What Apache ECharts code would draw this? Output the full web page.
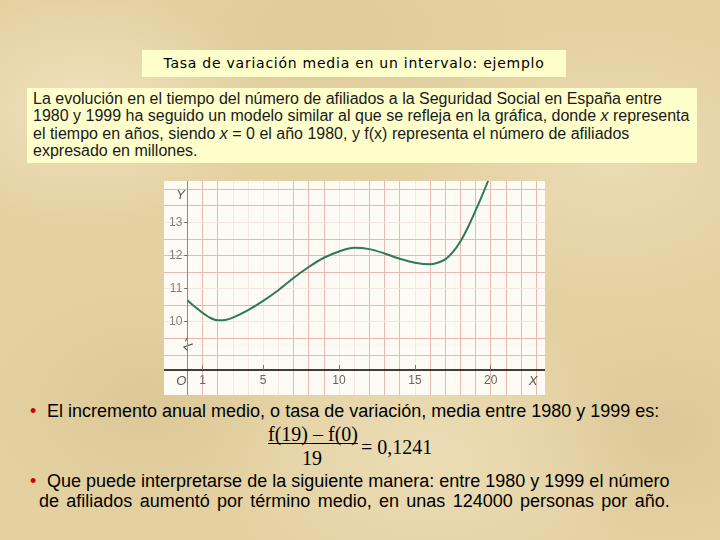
<!DOCTYPE html>
<html>
<head>
<meta charset="utf-8">
<script src="https://cdn.jsdelivr.net/npm/echarts@6/dist/echarts.min.js"></script>
<style>
  html, body { margin: 0; padding: 0; }
  body {
    width: 720px; height: 540px; position: relative; overflow: hidden;
    background-color: #e4d1a2;
    background-image:
      radial-gradient(ellipse 180px 120px at 12% 20%, rgba(244,232,200,0.7), rgba(244,232,200,0) 100%),
      radial-gradient(ellipse 200px 140px at 85% 30%, rgba(241,228,193,0.55), rgba(241,228,193,0) 100%),
      radial-gradient(ellipse 220px 150px at 60% 85%, rgba(242,230,197,0.55), rgba(242,230,197,0) 100%),
      radial-gradient(ellipse 160px 120px at 20% 75%, rgba(212,190,138,0.45), rgba(212,190,138,0) 100%),
      radial-gradient(ellipse 160px 110px at 92% 80%, rgba(210,188,138,0.45), rgba(210,188,138,0) 100%),
      radial-gradient(ellipse 200px 90px at 45% 5%, rgba(216,196,148,0.45), rgba(216,196,148,0) 100%);
  }
  .box { position: absolute; background: #ffffcc; }
  #title {
    left: 142px; top: 50px; width: 424px; height: 27px;
    font-family: "DejaVu Sans", Verdana, sans-serif; font-size: 14px; letter-spacing: 0.75px;
    line-height: 27px; text-align: center; color: #000;
  }
  #para {
    left: 27px; top: 88px; width: 664px; height: 73px; padding: 2px 0 0 6px;
    font-family: "Liberation Sans", Arial, sans-serif; font-size: 16px;
    line-height: 17.3px; color: #1a1a1a; white-space: nowrap;
  }
  #wrap {
    position: absolute; left: 164px; top: 181px; width: 381px; height: 214px;
    overflow: hidden; background: #fdfbf3;
  }
  #chart { position: absolute; left: -20px; top: -20px; width: 421px; height: 254px; }
  .t { position: absolute; font-family: "Liberation Sans", Arial, sans-serif; font-size: 18px; color: #000; white-space: nowrap; line-height: 20px; }
  .b { position: absolute; color: #cc0000; font-family: "Liberation Sans", Arial, sans-serif; font-size: 18px; line-height: 20px; }
  .f { position: absolute; font-family: "Liberation Serif", "Times New Roman", serif; font-size: 20px; color: #000; white-space: nowrap; line-height: 20px; }
</style>
</head>
<body>
<div id="title" class="box">Tasa de variación media en un intervalo: ejemplo</div>
<div id="para" class="box">La evolución en el tiempo del número de afiliados a la Seguridad Social en España entre<br>1980 y 1999 ha seguido un modelo similar al que se refleja en la gráfica, donde <i>x</i> representa<br>el tiempo en años, siendo <i>x</i> = 0 el año 1980, y f(x) representa el número de afiliados<br>expresado en millones.</div>
<div id="wrap"><div id="chart"></div></div>

<div class="b" style="left:30px; top:401px;">•</div>
<div class="t" style="left:47px; top:401px;">El incremento anual medio, o tasa de variación, media entre 1980 y 1999 es:</div>
<div class="f" style="left:268px; top:424px;">f(19) – f(0)</div>
<div style="position:absolute; left:268px; top:443px; width:90px; height:1px; background:#000;"></div>
<div class="f" style="left:302px; top:448px;">19</div>
<div class="f" style="left:361px; top:437px;">= 0,1241</div>
<div class="b" style="left:30px; top:471px;">•</div>
<div class="t" style="left:47px; top:471px;">Que puede interpretarse de la siguiente manera: entre 1980 y 1999 el número</div>
<div class="t" style="left:39px; top:491px; word-spacing:2.3px;">de afiliados aumentó por término medio, en unas 124000 personas por año.</div>

<script>
// Data
const xValues = [0, 0.5, 1, 1.5, 2, 2.5, 3, 4, 5, 6, 7, 8, 9, 10, 11, 12, 13, 14, 15, 16, 16.5, 17, 17.5, 18, 18.5, 19, 19.5, 20];
const yValues = [10.65, 10.45, 10.27, 10.12, 10.04, 10.05, 10.12, 10.35, 10.63, 10.95, 11.32, 11.65, 11.93, 12.12, 12.23, 12.19, 12.06, 11.9, 11.78, 11.73, 11.78, 11.88, 12.1, 12.42, 12.85, 13.35, 13.88, 14.45];
const xTickLabels = [1, 5, 10, 15, 20];
const yTickLabels = [10, 11, 12, 13];
// Grid paper lines of the figure
const gridXLines = [1, 2, 3, 4, 5, 6, 7, 8, 9, 10, 11, 12, 13, 14, 15, 16, 17, 18, 19, 20, 21, 22, 23];
const faintXLines = [3, 4, 5, 6, 10, 11, 15];
const gridYLines = [9, 9.5, 10, 10.5, 11, 11.5, 12, 12.5, 13, 13.5, 14];
const faintYLines = [10, 11, 13];

const X_MIN = -2, X_MAX = 24, X_STEP = 1;
const Y_MIN = 7.5, Y_MAX = 14.5, Y_STEP = 0.5;

const pink = '#e9b9b1';
const faint = '#f6e6e1';

const chart = echarts.init(document.getElementById('chart'), null, { renderer: 'canvas' });
const seriesData = xValues.map((x, i) => [x, yValues[i]]);
const labelFont = 'Liberation Sans, Arial, sans-serif';

const gridLineData = gridXLines.map(v => ({ xAxis: v, lineStyle: { color: faintXLines.indexOf(v) >= 0 ? faint : pink } }))
  .concat(gridYLines.map(v => ({ yAxis: v, lineStyle: { color: faintYLines.indexOf(v) >= 0 ? faint : pink } })));

chart.setOption({
  animation: false,
  grid: { left: 13, top: 11.6, width: 394.4, height: 231.9, containLabel: false, outerBoundsMode: 'none' },
  xAxis: {
    type: 'value', min: X_MIN, max: X_MAX, interval: X_STEP,
    position: 'bottom', offset: -34.5, z: 5,
    axisLine: { show: true, onZero: false, lineStyle: { color: '#000', width: 1.5 } },
    axisTick: { show: true, inside: true, length: 5, customValues: xTickLabels, lineStyle: { color: '#777' } },
    axisLabel: { show: true, customValues: xTickLabels, margin: 5, color: '#666', fontSize: 12, fontFamily: labelFont },
    splitLine: { show: false }
  },
  yAxis: {
    type: 'value', min: Y_MIN, max: Y_MAX, interval: Y_STEP,
    position: 'left', offset: -30.3, z: 5,
    axisLine: { show: true, onZero: false, lineStyle: { color: '#8a8a8a', width: 1 } },
    axisTick: { show: true, inside: false, length: 3, customValues: yTickLabels, lineStyle: { color: '#666' } },
    axisLabel: { show: true, customValues: yTickLabels, margin: 5, color: '#808080', fontSize: 12, fontFamily: labelFont },
    splitLine: { show: false }
  },
  series: [{
    name: 'paper', type: 'line', data: seriesData, z: 0, zlevel: 0, silent: true, showSymbol: false,
    lineStyle: { opacity: 0 },
    markLine: { z: 0, silent: true, symbol: 'none', animation: false, label: { show: false },
      lineStyle: { type: 'solid', width: 1 }, emphasis: { disabled: true }, data: gridLineData }
  }, {
    name: 'f(x)', type: 'line', data: seriesData, z: 8, zlevel: 0, smooth: 0.3, showSymbol: false,
    lineStyle: { color: '#2b7b56', width: 2 }, clip: true
  }]
});

// Axis letters and axis-break symbol, anchored on the chart's own scales
const toPx = (v) => chart.convertToPixel({ xAxisIndex: 0, yAxisIndex: 0 }, v);
const pO = toPx([-0.4, 8.2]);
const pX = toPx([22.8, 8.2]);
const pY = toPx([-0.45, 13.8]);
const pB = toPx([0, 9.3]);
const letterStyle = { fontSize: 13, fontStyle: 'italic', fill: '#555', fontFamily: labelFont, align: 'center', verticalAlign: 'middle' };
chart.setOption({
  graphic: [
    { type: 'text', x: pO[0], y: pO[1], style: Object.assign({ text: 'O' }, letterStyle) },
    { type: 'text', x: pX[0], y: pX[1], style: Object.assign({ text: 'X' }, letterStyle) },
    { type: 'text', x: pY[0], y: pY[1], style: Object.assign({ text: 'Y' }, letterStyle) },
    { type: 'polyline', x: pB[0], y: pB[1], shape: { points: [[-0.5, -7], [-2, -3.5]] }, style: { stroke: '#555', lineWidth: 1.1, fill: null } },
    { type: 'polyline', x: pB[0], y: pB[1], shape: { points: [[5.5, -1], [-3.5, 2], [0, 5.5]] }, style: { stroke: '#555', lineWidth: 1.1, fill: null } }
  ]
});
</script>
</body>
</html>
